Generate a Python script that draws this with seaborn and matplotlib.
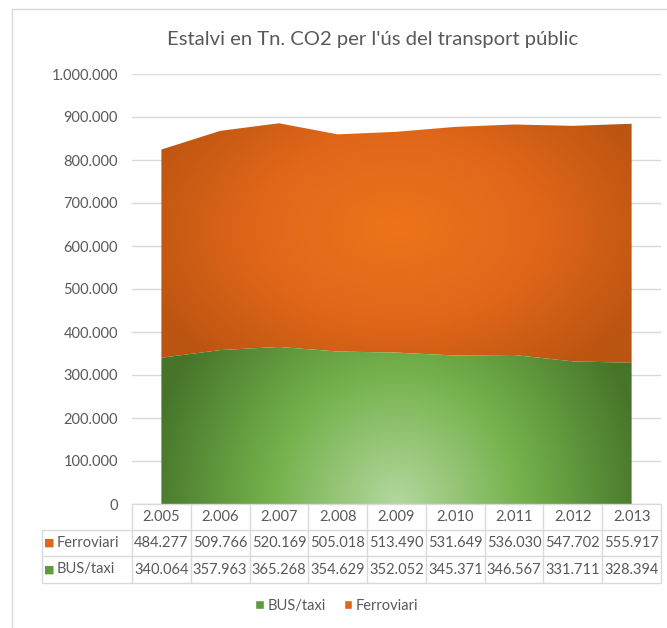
import numpy as np
import matplotlib
matplotlib.use("Agg")
import matplotlib.pyplot as plt
import matplotlib.colors as mcolors
import seaborn as sns
from matplotlib.patches import Patch
from matplotlib.lines import Line2D
from matplotlib.transforms import blended_transform_factory

# dades
years = ["2.005", "2.006", "2.007", "2.008", "2.009", "2.010", "2.011", "2.012", "2.013"]
bus_taxi = [340064, 357963, 365268, 354629, 352052, 345371, 346567, 331711, 328394]
ferroviari = [484277, 509766, 520169, 505018, 513490, 531649, 536030, 547702, 555917]

sns.set_theme(style="white")
plt.rcParams["font.family"] = ["Lato", "DejaVu Sans"]

grey = "#595959"
linec = "#D9D9D9"
fs = 10.5

W, H = 667, 628
fig = plt.figure(figsize=(W / 100, H / 100), dpi=100)
ax = fig.add_axes([132 / W, 1 - 504 / H, 529 / W, 430 / H])

x = np.arange(len(years))
bus = np.array(bus_taxi)
top = bus + np.array(ferroviari)

poly_bus = ax.fill_between(x, 0, bus, facecolor="none", lw=0)
poly_fer = ax.fill_between(x, bus, top, facecolor="none", lw=0)


def gradient(poly, cx, cy, rx, ry, stops):
    gx = np.linspace(-0.5, 8.5, 500)
    gy = np.linspace(0, 1e6, 500)
    X, Y = np.meshgrid(gx, gy)
    r = np.clip(np.sqrt(((X - cx) / rx) ** 2 + ((Y - cy) / ry) ** 2), 0, 1)
    cmap = mcolors.LinearSegmentedColormap.from_list("g", stops)
    im = ax.imshow(r, extent=(-0.5, 8.5, 0, 1e6), origin="lower", cmap=cmap,
                   vmin=0, vmax=1, aspect="auto", zorder=2, interpolation="bilinear")
    im.set_clip_path(poly.get_paths()[0], transform=ax.transData)


gradient(poly_fer, 4.0, 640000, 4.6, 420000,
         [(0, "#EE731B"), (0.5, "#E2671A"), (1, "#BB5511")])
gradient(poly_bus, 4.0, 0, 4.3, 620000,
         [(0, "#B3D89E"), (0.5, "#74B14B"), (1, "#46752A")])

ax.set_xlim(-0.5, 8.5)
ax.set_ylim(0, 1e6)
ax.set_yticks(np.arange(0, 1e6 + 1, 1e5))
ax.set_yticklabels([f"{v:,.0f}".replace(",", ".") for v in np.arange(0, 1e6 + 1, 1e5)])
ax.set_xticks([])
ax.tick_params(axis="y", length=0, pad=10, labelsize=fs, labelcolor=grey)
ax.yaxis.grid(True, color=linec, lw=1)
ax.set_axisbelow(True)
sns.despine(ax=ax, left=True, bottom=True)

# taula de dades
trans = blended_transform_factory(ax.transData, ax.transAxes)
ah = 430.0
r0, r1, r2, r3 = 0, -26 / ah, -52 / ah, -79 / ah
lx = (42 - 132) / 529

for i, yr in enumerate(years):
    ax.text(i, (r0 + r1) / 2, yr, transform=trans, ha="center", va="center",
            size=fs, color=grey)
    ax.text(i, (r1 + r2) / 2, f"{ferroviari[i]:,}".replace(",", "."), transform=trans,
            ha="center", va="center", size=fs, color=grey)
    ax.text(i, (r2 + r3) / 2, f"{bus_taxi[i]:,}".replace(",", "."), transform=trans,
            ha="center", va="center", size=fs, color=grey)

for b in np.arange(-0.5, 9, 1):
    ax.add_line(Line2D([b, b], [r0, r3], transform=trans, color=linec, lw=1, clip_on=False))
ax.add_line(Line2D([0, 1], [r0, r0], transform=ax.transAxes, color=linec, lw=1, clip_on=False))
for ry in (r1, r2, r3):
    ax.add_line(Line2D([lx, 1], [ry, ry], transform=ax.transAxes, color=linec, lw=1, clip_on=False))
ax.add_line(Line2D([lx, lx], [r1, r3], transform=ax.transAxes, color=linec, lw=1, clip_on=False))

for ry, name, col in (((r1 + r2) / 2, "Ferroviari", "#E0661A"),
                      ((r2 + r3) / 2, "BUS/taxi", "#5E9B3C")):
    ax.text((49 - 132) / 529, ry, "■", transform=ax.transAxes, ha="center", va="center",
            size=8, color=col, family=["DejaVu Sans"])
    ax.text((57 - 132) / 529, ry, name, transform=ax.transAxes, ha="left", va="center",
            size=fs, color=grey)

# titol
fig.text(373 / W, 1 - 40 / H, "Estalvi en Tn. CO2 per l'ús del transport públic",
         ha="center", va="center", size=14.6, color=grey)

# llegenda
handles = [Patch(facecolor="#5E9B3C", label="BUS/taxi"),
           Patch(facecolor="#E0661A", label="Ferroviari")]
fig.legend(handles=handles, loc="center", bbox_to_anchor=(337 / W, 1 - 606 / H), ncol=2,
           frameon=False, handlelength=0.6, handleheight=0.6, handletextpad=0.25,
           columnspacing=1.2, fontsize=fs, labelcolor=grey)

# marc del grafic
fig.add_artist(Line2D([12 / W, 12 / W], [0, 1 - 9 / H], color=linec, lw=1))
fig.add_artist(Line2D([12 / W, 1], [1 - 9 / H, 1 - 9 / H], color=linec, lw=1))

fig.savefig("out.png", dpi=100, facecolor="white")
